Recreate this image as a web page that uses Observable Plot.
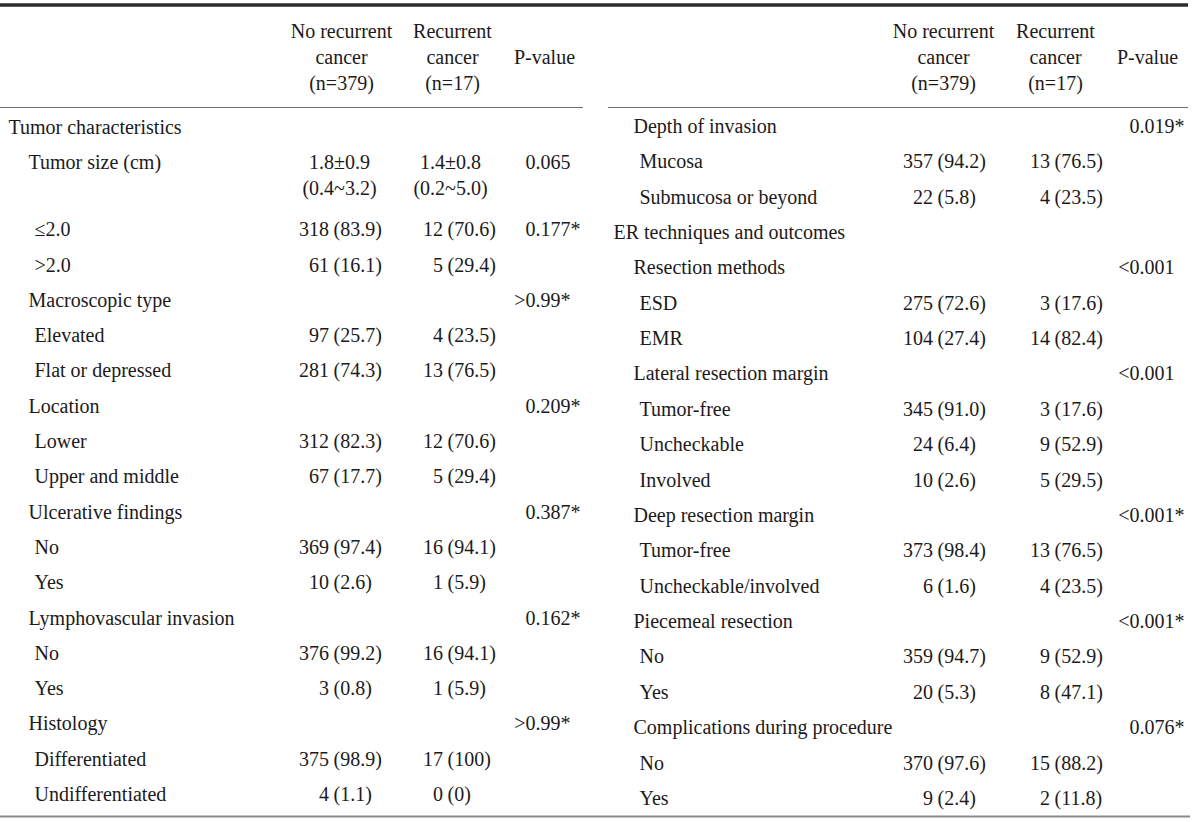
<!DOCTYPE html>
<html><head><meta charset="utf-8">
<script src="https://cdn.jsdelivr.net/npm/d3@7"></script>
<script src="https://cdn.jsdelivr.net/npm/@observablehq/plot@0.6"></script>
<style>html,body{margin:0;padding:0;background:#fff}</style>
</head><body><div id="chart"></div>
<script>
// ---------- DATA ----------
const headNoRec = ["No recurrent", "cancer", "(n=379)"];
const headRec = ["Recurrent", "cancer", "(n=17)"];
const headP = "P-value";

const leftLabels = ["Tumor characteristics","Tumor size (cm)","≤2.0",">2.0","Macroscopic type","Elevated","Flat or depressed","Location","Lower","Upper and middle","Ulcerative findings","No","Yes","Lymphovascular invasion","No","Yes","Histology","Differentiated","Undifferentiated"];
const leftLevels = [0,1,2,2,1,2,2,1,2,2,1,2,2,1,2,2,1,2,2];
const leftNoRec = ["","1.8±0.9\n(0.4~3.2)","318 (83.9)","61 (16.1)","","97 (25.7)","281 (74.3)","","312 (82.3)","67 (17.7)","","369 (97.4)","10 (2.6)","","376 (99.2)","3 (0.8)","","375 (98.9)","4 (1.1)"];
const leftRec = ["","1.4±0.8\n(0.2~5.0)","12 (70.6)","5 (29.4)","","4 (23.5)","13 (76.5)","","12 (70.6)","5 (29.4)","","16 (94.1)","1 (5.9)","","16 (94.1)","1 (5.9)","","17 (100)","0 (0)"];
const leftP = ["","0.065","0.177*","",">0.99*","","","0.209*","","","0.387*","","","0.162*","","",">0.99*","",""];

const rightLabels = ["Depth of invasion","Mucosa","Submucosa or beyond","ER techniques and outcomes","Resection methods","ESD","EMR","Lateral resection margin","Tumor-free","Uncheckable","Involved","Deep resection margin","Tumor-free","Uncheckable/involved","Piecemeal resection","No","Yes","Complications during procedure","No","Yes"];
const rightLevels = [1,2,2,0,1,2,2,1,2,2,2,1,2,2,1,2,2,1,2,2];
const rightNoRec = ["","357 (94.2)","22 (5.8)","","","275 (72.6)","104 (27.4)","","345 (91.0)","24 (6.4)","10 (2.6)","","373 (98.4)","6 (1.6)","","359 (94.7)","20 (5.3)","","370 (97.6)","9 (2.4)"];
const rightRec = ["","13 (76.5)","4 (23.5)","","","3 (17.6)","14 (82.4)","","3 (17.6)","9 (52.9)","5 (29.5)","","13 (76.5)","4 (23.5)","","9 (52.9)","8 (47.1)","","15 (88.2)","2 (11.8)"];
const rightP = ["0.019*","","","","<0.001","","","<0.001","","","","<0.001*","","","<0.001*","","","0.076*","",""];

// ---------- LAYOUT ----------
const W = 1200, H = 822;
const FONT = "Liberation Serif";
const FS = 20;
const INK = "#1c1a1b";
const panels = [
  {labels:leftLabels, levels:leftLevels, c1:leftNoRec, c2:leftRec, p:leftP,
   indent:[8,28,34], head:[341,452,544], anchor:[333,447], pDot:535,
   rowY: i => 127 + 35.3 * (i <= 1 ? i : i + 0.9), ruleX:[0,583]},
  {labels:rightLabels, levels:rightLevels, c1:rightNoRec, c2:rightRec, p:rightP,
   indent:[613,633,639], head:[943,1055,1147], anchor:[937,1054], pDot:1139,
   rowY: i => 126 + 35.37 * i, ruleX:[608,1188]}
];
const headY = [31, 57, 83];
const subLine = 26;
const gap = 4.5;

const start = [], middle = [], end = [];
for (const P of panels) {
  headNoRec.forEach((t, k) => middle.push({x:P.head[0], y:headY[k], t}));
  headRec.forEach((t, k) => middle.push({x:P.head[1], y:headY[k], t}));
  middle.push({x:P.head[2], y:headY[1], t:headP});
  P.labels.forEach((lab, i) => {
    const y = P.rowY(i);
    start.push({x:P.indent[P.levels[i]], y, t:lab});
    [P.c1[i], P.c2[i]].forEach((cell, c) => {
      if (!cell) return;
      cell.split("\n").forEach((line, k) => {
        const yy = y + k * subLine;
        const m = line.match(/^(\S+) (\(.*\))$/);
        if (m) {
          end.push({x:P.anchor[c] - gap, y:yy, t:m[1]});
          start.push({x:P.anchor[c], y:yy, t:m[2]});
        } else {
          middle.push({x:P.head[c] - 2, y:yy, t:line});
        }
      });
    });
    const pv = P.p[i];
    if (pv) {
      const d = pv.indexOf(".");
      end.push({x:P.pDot, y, t:pv.slice(0, d)});
      start.push({x:P.pDot, y, t:pv.slice(d)});
    }
  });
}

const thick = [{x1:0, x2:1188, y:4.5}];
const heads = panels.map(P => ({x1:P.ruleX[0], x2:P.ruleX[1], y:107}));
const bottom = [{x1:0, x2:1190, y:816}];

const txt = (data, anchor) => Plot.text(data, {x:"x", y:"y", text:"t", textAnchor:anchor,
  fontFamily:FONT, fontSize:FS, fill:INK});

const chart = Plot.plot({
  width: W, height: H,
  margin: 0,
  x: {type:"linear", domain:[0, W], range:[0, W], axis:null},
  y: {type:"linear", domain:[0, H], range:[0, H], axis:null},
  style: {background:"#fff", fontFamily: FONT},
  marks: [
    Plot.ruleY(thick, {y:"y", x1:"x1", x2:"x2", stroke:"#2b2b2b", strokeWidth:3.5}),
    Plot.ruleY(heads, {y:"y", x1:"x1", x2:"x2", stroke:"#6d6d6d", strokeWidth:1.2}),
    Plot.ruleY(bottom, {y:"y", x1:"x1", x2:"x2", stroke:"#8a8a8a", strokeWidth:2}),
    txt(start, "start"),
    txt(middle, "middle"),
    txt(end, "end")
  ]
});
document.getElementById("chart").appendChild(chart);
</script>
</body></html>
